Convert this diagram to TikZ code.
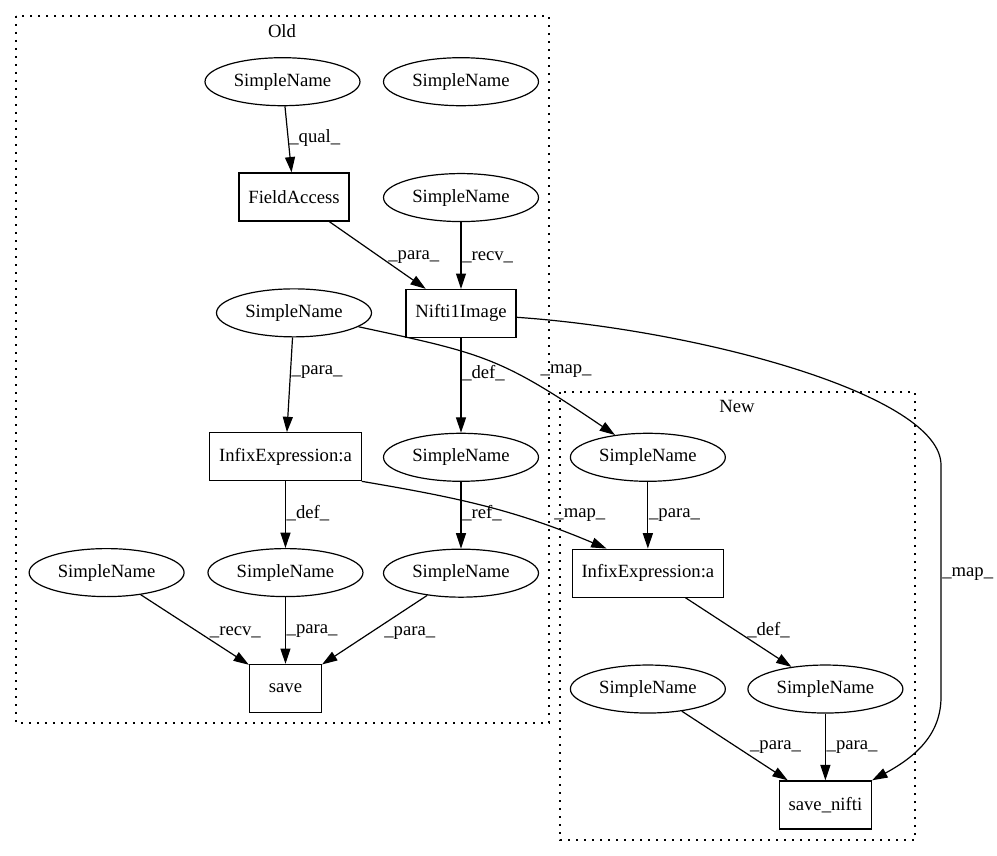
\documentclass[tikz,border=0pt]{standalone}
\usepackage{fontspec}
\setmainfont{Liberation Serif}
\usetikzlibrary{arrows.meta, positioning, shapes.geometric}

\begin{document}
\begin{tikzpicture}[
  x=0.75pt, y=-0.75pt,
  node distance=50pt and 16pt,
  every node/.style={font=\fontsize{14pt}{16pt}\selectfont},
  sname/.style={ellipse, draw, line width=0.9pt, minimum width=116.25pt, minimum height=36pt, inner sep=0pt},
  opbox/.style={rectangle, draw, line width=0.9pt, minimum width=54pt, minimum height=36pt,
                inner xsep=7pt, inner ysep=0pt},
  arr/.style={-{Triangle[length=11.5pt, width=7.5pt]}, line width=0.9pt},
  lbl/.style={right, inner sep=0.5pt},
  cluster/.style={line width=1pt, dash pattern=on 1.2pt off 4.8pt}
]
  \useasboundingbox (0,0) rectangle (997,856);

  \draw[cluster] (16,16) rectangle (549,723);
  \node (oldlbl) at (282,31) {Old};
  \draw[cluster] (560,392) rectangle (915,840);
  \node (newlbl) at (737,406) {New};

  \node[sname] (sn1) at (282.5,81.7) {SimpleName};
  \node[sname] (sn2) at (461,81.7) {SimpleName};
  \node[opbox] (fa) at (294,197) {FieldAccess};
  \node[sname, below=of sn2] (sn3) {SimpleName};
  \node[opbox, below=of sn3] (nifti) {Nifti1Image};
  \node[sname, below=of fa] (sn4) {SimpleName};
  \node[opbox, below=71pt of sn4, xshift=-6.4pt] (infixold) {InfixExpression:a};
  \node[sname, below=71pt of nifti] (sn5) {SimpleName};
  \node[sname, right=23pt of sn5] (sn9) {SimpleName};
  \node[sname, below=of infixold] (sn7) {SimpleName};
  \node[sname, left=17pt of sn7] (sn6) {SimpleName};
  \node[sname, below=of sn5] (sn8) {SimpleName};
  \node[opbox, below=of sn7] (save) {save};
  \node[opbox, below=of sn9] (infixnew) {InfixExpression:a};
  \node[sname, below=of infixnew] (sn10) {SimpleName};
  \node[sname, right=of sn10] (sn11) {SimpleName};
  \node[opbox, below=of sn11] (savenifti) {save\_nifti};

  \draw[arr] (sn1) -- (fa) node[lbl, pos=0.48] {\_qual\_};
  \draw[arr] (fa) -- (nifti) node[lbl, pos=0.53, xshift=5pt] {\_para\_};
  \draw[arr] (sn3) -- (nifti) node[lbl, pos=0.53] {\_recv\_};
  \draw[arr] (sn4) -- (infixold) node[lbl, pos=0.37] {\_para\_};
  \draw[arr] (nifti) -- (sn5) node[lbl, pos=0.37] {\_def\_};
  \draw[arr] (sn4) .. controls (485,354) and (500,357) .. (sn9)
    node[lbl, pos=0.6, xshift=21pt] {\_map\_};
  \draw[arr] (nifti) .. controls (700,330) and (941,395) .. (941,465) -- (941,697)
    node[lbl, pos=0.47] {\_map\_} .. controls (941,735) and (915,757) .. (savenifti.north east);
  \draw[arr] (infixold.south east) .. controls (460,498) and (515,510) .. ([xshift=-31pt]infixnew.north)
    node[lbl, pos=0.63, xshift=28pt] {\_map\_};
  \draw[arr] (infixold) -- (sn7) node[lbl, pos=0.47] {\_def\_};
  \draw[arr] (sn5) -- (sn8) node[lbl, pos=0.47] {\_ref\_};
  \draw[arr] (sn6) -- (save) node[lbl, pos=0.53, xshift=8pt] {\_recv\_};
  \draw[arr] (sn7) -- (save) node[lbl, pos=0.51] {\_para\_};
  \draw[arr] (sn8) -- (save) node[lbl, pos=0.54, xshift=9.5pt] {\_para\_};
  \draw[arr] (sn9) -- (infixnew) node[lbl, pos=0.5] {\_para\_};
  \draw[arr] (infixnew) -- (sn11) node[lbl, pos=0.47, xshift=8pt] {\_def\_};
  \draw[arr] (sn10) -- (savenifti) node[lbl, pos=0.52, xshift=9pt] {\_para\_};
  \draw[arr] (sn11) -- (savenifti) node[lbl, pos=0.5] {\_para\_};
\end{tikzpicture}
\end{document}
